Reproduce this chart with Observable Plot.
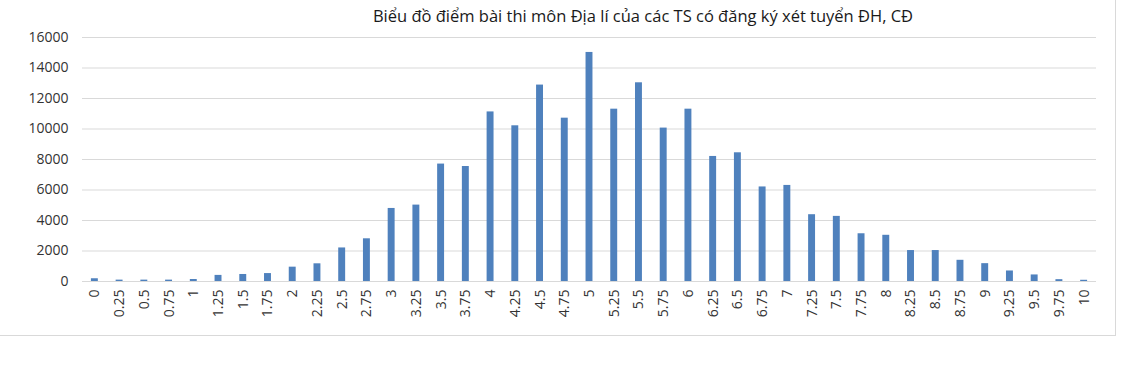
<!DOCTYPE html>
<html>
<head>
<meta charset="utf-8">
<script src="https://cdn.jsdelivr.net/npm/d3@7"></script>
<script src="https://cdn.jsdelivr.net/npm/@observablehq/plot@0.6"></script>
<style>
  html, body { margin: 0; padding: 0; background: #fff; }
  #wrap { position: relative; width: 1136px; height: 367px; overflow: hidden; }
  #frame { position: absolute; left: 0; top: 0; width: 1115px; height: 335px;
           border-right: 1.5px solid #d9d9d9; border-bottom: 1.5px solid #d9d9d9; }
  #title { position: absolute; left: 0; top: 4px; width: 1286px; text-align: center;
           font-family: "Open Sans", sans-serif; font-size: 16.5px; color: #1a1a1a; }
  #chart { position: absolute; left: 0; top: 0; }
</style>
</head>
<body>
<div id="wrap">
  <div id="frame"></div>
  <div id="chart"></div>
  <div id="title"></div>
</div>
<script>
const titleText = "Biểu đồ điểm bài thi môn Địa lí của các TS có đăng ký xét tuyển ĐH, CĐ";
const scores = ["0","0.25","0.5","0.75","1","1.25","1.5","1.75","2","2.25","2.5","2.75",
  "3","3.25","3.5","3.75","4","4.25","4.5","4.75","5","5.25","5.5","5.75","6","6.25",
  "6.5","6.75","7","7.25","7.5","7.75","8","8.25","8.5","8.75","9","9.25","9.5","9.75","10"];
const counts = [180,90,90,90,130,400,460,520,940,1160,2200,2800,
  4790,5010,7700,7540,11120,10210,12880,10710,15020,11300,13030,10060,11300,8200,
  8440,6200,6300,4380,4270,3130,3030,2030,2030,1390,1170,690,430,120,80];
const yTicks = [0,2000,4000,6000,8000,10000,12000,14000,16000];

document.getElementById("title").textContent = titleText;
const data = scores.map((s, i) => ({score: s, count: counts[i]}));

const chart = Plot.plot({
  width: 1136,
  height: 367,
  marginTop: 37,
  marginBottom: 86,
  marginLeft: 82,
  marginRight: 40,
  style: {fontFamily: "'Open Sans', sans-serif", fontSize: "14px", color: "#333333", background: "transparent"},
  x: {domain: scores, padding: 0, round: false, label: null},
  y: {domain: [0, 16000], label: null},
  marks: [
    Plot.gridY(yTicks, {stroke: "#d9d9d9", strokeOpacity: 1, strokeWidth: 1.2}),
    Plot.barY(data, {x: "score", y: "count", fill: "#4f81bd", insetLeft: 8.9, insetRight: 8.9}),
    Plot.axisY(yTicks, {tickSize: 0, tickPadding: 14, tickFormat: d => String(d), label: null, fill: "#333333"}),
    Plot.axisX({tickSize: 0, tickPadding: 8, tickRotate: -90, label: null, fill: "#333333"})
  ]
});
document.getElementById("chart").appendChild(chart);
</script>
</body>
</html>
